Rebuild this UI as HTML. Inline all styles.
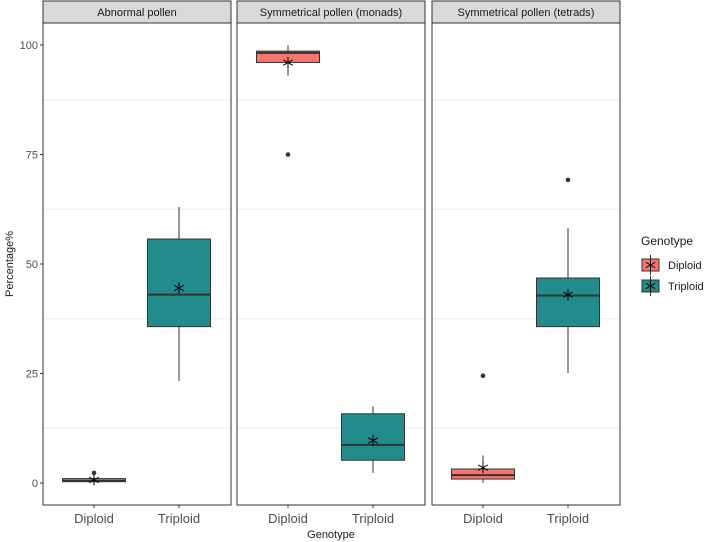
<!DOCTYPE html>
<html><head><meta charset="utf-8"><style>body{margin:0;background:#fff}svg{display:block;font-family:"Liberation Sans",sans-serif}</style></head>
<body>
<svg id="chart" width="708" height="542"></svg>
<script>
const panels = ["Abnormal pollen", "Symmetrical pollen (monads)", "Symmetrical pollen (tetrads)"];
const groups = ["Diploid", "Triploid"];
const lowWhisker = [[0,23.3],[93,2.3],[0,25.1]];
const q1s = [[0.3,35.7],[96,5.2],[0.9,35.7]];
const medians = [[0.5,43],[98.2,8.7],[1.8,42.8]];
const q3s = [[1.0,55.7],[98.6,15.8],[3.2,46.8]];
const highWhisker = [[1.3,63],[100,17.5],[6.3,58.2]];
const means = [[0.7,44.5],[96,9.7],[3.5,43]];
const outliers = [[[2.3],[]],[[75],[]],[[24.5],[69.2]]];
const yTicks = [0,25,50,75,100];
const minorTicks = [12.5,37.5,62.5,87.5];
const colors = ["#F8766D","#228B8B"];

const NS="http://www.w3.org/2000/svg", svg=document.getElementById('chart');
function mk(t,a,p){const e=document.createElementNS(NS,t);for(const k in a)e.setAttribute(k,a[k]);(p||svg).appendChild(e);return e;}
const panelX=[43,237,432], panelW=188, plotTop=23, plotBottom=505;
const y=v=>483-v*4.38;
const xc=(p,g)=>panelX[p]+51+g*85;
function star(cx,cy,g){
  for(const a of [0,60,120]){const r=a*Math.PI/180,d=5.5;
    mk('line',{x1:cx-d*Math.sin(r),y1:cy-d*Math.cos(r),x2:cx+d*Math.sin(r),y2:cy+d*Math.cos(r),stroke:'#000','stroke-width':1},g);}
}
panels.forEach((name,p)=>{
  const x0=panelX[p];
  const strip=mk('g',{});
  
  
  mk('rect',{x:x0,y:1,width:panelW,height:plotTop-1,fill:'#d9d9d9',stroke:'#333','stroke-width':1},strip);
  const t=mk('text',{x:x0+panelW/2,y:16,'text-anchor':'middle','font-size':11,fill:'#1a1a1a'},strip);t.textContent=name;
  minorTicks.forEach(v=>mk('line',{x1:x0,x2:x0+panelW,y1:y(v),y2:y(v),stroke:'#ebebeb','stroke-width':1}));
  groups.forEach((gname,g)=>{
    const cx=xc(p,g),bw=63;
    const box=mk('g',{});
    
    
    mk('line',{x1:cx,x2:cx,y1:y(highWhisker[p][g]),y2:y(lowWhisker[p][g]),stroke:'#333','stroke-width':1},box);
    mk('rect',{x:cx-bw/2,y:y(q3s[p][g]),width:bw,height:y(q1s[p][g])-y(q3s[p][g]),fill:colors[g],stroke:'#333','stroke-width':1},box);
    mk('line',{x1:cx-bw/2,x2:cx+bw/2,y1:y(medians[p][g]),y2:y(medians[p][g]),stroke:'#333','stroke-width':2},box);
    outliers[p][g].forEach(o=>mk('circle',{cx:cx,cy:y(o),r:2.3,fill:'#333'},box));
    star(cx,y(means[p][g]),box);
    mk('line',{x1:cx,x2:cx,y1:plotBottom,y2:plotBottom+3,stroke:'#333'});
    const tl=mk('text',{x:cx,y:523,'text-anchor':'middle','font-size':13,fill:'#4d4d4d'});tl.textContent=gname;
    
    
  });
  mk('rect',{x:x0,y:plotTop,width:panelW,height:plotBottom-plotTop,fill:'none',stroke:'#333','stroke-width':1});
});
yTicks.forEach(v=>{
  mk('line',{x1:40,x2:43,y1:y(v),y2:y(v),stroke:'#333'});
  const t=mk('text',{x:38,y:y(v)+4,'text-anchor':'end','font-size':11,fill:'#4d4d4d'});t.textContent=v;
  
  
});
const yt=mk('text',{x:0,y:0,transform:'translate(13,264) rotate(-90)','text-anchor':'middle','font-size':11,fill:'#1a1a1a'});yt.textContent='Percentage%';


const xt=mk('text',{x:331,y:538,'text-anchor':'middle','font-size':11,fill:'#1a1a1a'});xt.textContent='Genotype';


const lt=mk('text',{x:641,y:245,'font-size':12,fill:'#1a1a1a'});lt.textContent='Genotype';


groups.forEach((gname,g)=>{
  const ly=259+g*21;
  const le=mk('g',{});
  
  
  mk('rect',{x:642,y:ly,width:17,height:12,fill:colors[g],stroke:'#333'},le);
  mk('line',{x1:650.5,x2:650.5,y1:ly-4,y2:ly+16,stroke:'#333'},le);
  star(650.5,ly+6,le);
  const t=mk('text',{x:668,y:ly+10,'font-size':11,fill:'#1a1a1a'},le);t.textContent=gname;
});
</script>
</body></html>
